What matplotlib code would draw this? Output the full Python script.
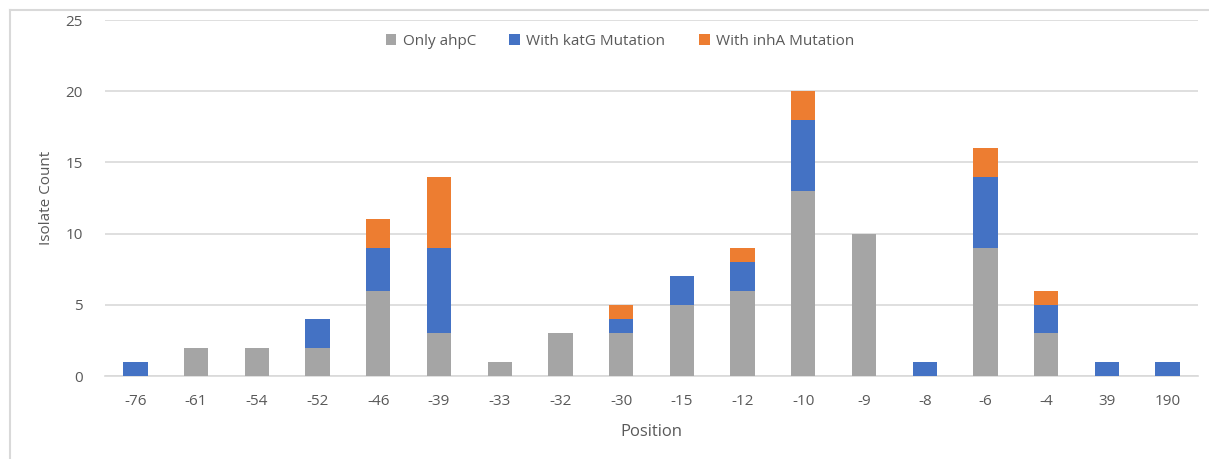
import matplotlib.pyplot as plt
import numpy as np
from matplotlib.lines import Line2D

positions = ["-76", "-61", "-54", "-52", "-46", "-39", "-33", "-32", "-30",
             "-15", "-12", "-10", "-9", "-8", "-6", "-4", "39", "190"]
only_ahpc = [0, 2, 2, 2, 6, 3, 1, 3, 3, 5, 6, 13, 10, 0, 9, 3, 0, 0]
with_katg = [1, 0, 0, 2, 3, 6, 0, 0, 1, 2, 2, 5, 0, 1, 5, 2, 1, 1]
with_inha = [0, 0, 0, 0, 2, 5, 0, 0, 1, 0, 1, 2, 0, 0, 2, 1, 0, 0]

plt.rcParams['font.family'] = ['Open Sans', 'DejaVu Sans']
txt = "#595959"

fig = plt.figure(figsize=(12.09, 4.59), dpi=100)
ax = fig.add_axes([105/1209, 1-376/459, (1198-105)/1209, (376-20)/459])

x = np.arange(len(positions))
w = 0.4
a = np.array(only_ahpc)
k = np.array(with_katg)
i = np.array(with_inha)
ax.bar(x, a, w, color="#A5A5A5", label="Only ahpC", zorder=3)
ax.bar(x, k, w, bottom=a, color="#4472C4", label="With katG Mutation", zorder=3)
ax.bar(x, i, w, bottom=a + k, color="#ED7D31", label="With inhA Mutation", zorder=3)

ax.set_xlim(-0.5, len(positions) - 0.5)
ax.set_ylim(0, 25)
ax.set_yticks(range(0, 26, 5))
ax.set_xticks(x)
ax.set_xticklabels(positions)
ax.yaxis.grid(True, color="#D9D9D9", linewidth=1.2, zorder=0)
for s in ["top", "right", "left"]:
    ax.spines[s].set_visible(False)
ax.spines["bottom"].set_color("#D9D9D9")
ax.spines["bottom"].set_linewidth(1.2)
ax.tick_params(axis="both", length=0, labelsize=11, colors=txt)
ax.tick_params(axis="x", pad=13)
ax.tick_params(axis="y", pad=16)
ax.set_xlabel("Position", fontsize=12, color=txt, labelpad=11)
ax.set_ylabel("Isolate Count", fontsize=11, color=txt, labelpad=8)

leg = ax.legend(loc="upper center", bbox_to_anchor=(0.471, 1.0), ncol=3,
                frameon=False, fontsize=11, handlelength=0.7, handleheight=0.7,
                handletextpad=0.4, columnspacing=2.2)
for t in leg.get_texts():
    t.set_color(txt)

# outer chart border (left and top edges visible)
fig.add_artist(Line2D([10/1209, 10/1209], [0, 1-10/459], color="#D9D9D9", lw=1.5))
fig.add_artist(Line2D([10/1209, 1], [1-10/459, 1-10/459], color="#D9D9D9", lw=1.5))

fig.savefig("out.png", dpi=100)
